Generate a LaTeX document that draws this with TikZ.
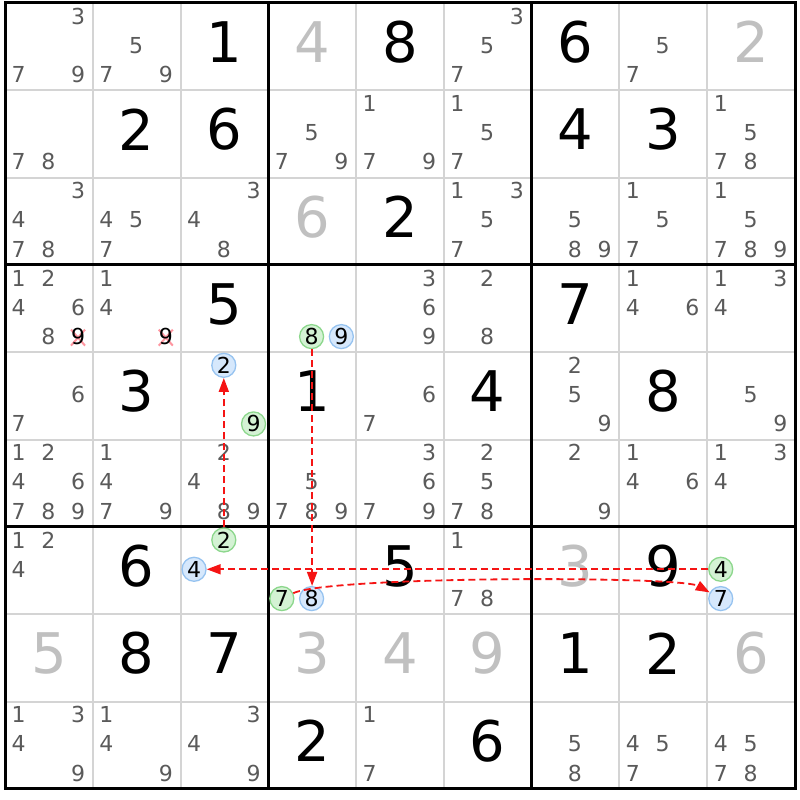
\documentclass[tikz,border=0pt]{standalone}
\usepackage{fontspec}
\setmainfont{DejaVu Sans}
\usetikzlibrary{arrows.meta,positioning}
\definecolor{candgray}{RGB}{90,90,90}
\definecolor{ghostgray}{RGB}{192,192,192}
\definecolor{gridline}{RGB}{212,212,212}
\definecolor{onfill}{RGB}{212,242,212}
\definecolor{ondraw}{RGB}{140,215,140}
\definecolor{offfill}{RGB}{214,232,252}
\definecolor{offdraw}{RGB}{150,195,240}
\definecolor{chainred}{RGB}{245,20,20}
\definecolor{strikered}{RGB}{255,150,160}

\begin{document}
\begin{tikzpicture}[x=87.78pt, y=-87.33pt]
% STYLES
\tikzset{%
    given/.style={font=\fontsize{56}{60}\selectfont, inner sep=0pt, yshift=4.5pt},
    placed/.style={given, text=ghostgray},
    cand/.style={font=\fontsize{22}{24}\selectfont, inner sep=0pt, text=candgray},
    oncand/.style={cand, circle, text=black, minimum size=24pt,
        draw=ondraw, fill=onfill, line width=1.3pt},
    offcand/.style={oncand, draw=offdraw, fill=offfill},
    thinline/.style={draw=gridline, line width=2pt},
    boxline/.style={draw=black, line width=3pt, line cap=rect},
    struckmark/.style={draw=strikered, line width=2pt},
    chainarrow/.style={draw=chainred, line width=1.8pt,
        dash pattern=on 7pt off 4pt, -{Triangle[length=14pt,width=10pt]}}
}
\fill[white] (-0.057,-0.0344) rectangle (9.0567,9.1263);
% Draw grid
\foreach \i in {1,2,4,5,7,8} {
    \path[thinline] (\i,0) -- (\i,9);
    \path[thinline] (0,\i) -- (9,\i);
}
\foreach \i in {0,3,6,9} {
    \path[boxline] (\i,0) -- (\i,9);
    \path[boxline] (0,\i) -- (9,\i);
}
% Draw givens
\foreach \rw/\cl/\dg in {1/3/1, 1/5/8, 1/7/6, 2/2/2, 2/3/6, 2/7/4, 2/8/3, 3/5/2,
    4/3/5, 4/7/7, 5/2/3, 5/4/1, 5/6/4, 5/8/8, 7/2/6, 7/5/5, 7/8/9,
    8/2/8, 8/3/7, 8/7/1, 8/8/2, 9/4/2, 9/6/6}
    \node[given] (g-\rw-\cl) at (\cl-0.5,\rw-0.5) {\dg};
\foreach \rw/\cl/\dg in {1/4/4, 1/9/2, 3/4/6, 7/7/3, 8/1/5, 8/4/3, 8/5/4, 8/6/9, 8/9/6}
    \node[placed] (g-\rw-\cl) at (\cl-0.5,\rw-0.5) {\dg};
% Draw candidates
\foreach \rw/\cl/\lst in {1/1/{3,7,9}, 1/2/{5,7,9}, 1/6/{3,5,7}, 1/8/{5,7},
    2/1/{7,8}, 2/4/{5,7,9}, 2/5/{1,7,9}, 2/6/{1,5,7}, 2/9/{1,5,7,8},
    3/1/{3,4,7,8}, 3/2/{4,5,7}, 3/3/{3,4,8}, 3/6/{1,3,5,7}, 3/7/{5,8,9},
    3/8/{1,5,7}, 3/9/{1,5,7,8,9},
    4/1/{1,2,4,6,8}, 4/2/{1,4}, 4/5/{3,6,9}, 4/6/{2,8}, 4/8/{1,4,6}, 4/9/{1,3,4},
    5/1/{6,7}, 5/5/{6,7}, 5/7/{2,5,9}, 5/9/{5,9},
    6/1/{1,2,4,6,7,8,9}, 6/2/{1,4,7,9}, 6/3/{2,4,8,9}, 6/4/{5,7,8,9},
    6/5/{3,6,7,9}, 6/6/{2,5,7,8}, 6/7/{2,9}, 6/8/{1,4,6}, 6/9/{1,3,4},
    7/1/{1,2,4}, 7/6/{1,7,8},
    9/1/{1,3,4,9}, 9/2/{1,4,9}, 9/3/{3,4,9}, 9/5/{1,7}, 9/7/{5,8},
    9/8/{4,5,7}, 9/9/{4,5,7,8}} {
    \foreach \dg in \lst {
        \pgfmathsetmacro\xx{\cl-1+(13.5+29.75*mod(\dg-1,3))/87.78}
        \pgfmathsetmacro\yy{\rw-1+(13+29.3*int((\dg-1)/3))/87.33}
        \node[cand] (k-\rw-\cl-\dg) at (\xx,\yy) {\dg};
    }
}
% Struck candidates
\foreach \cl in {1,2} {
    \pgfmathsetmacro\xx{\cl-1+(13.5+29.75*2)/87.78}
    \pgfmathsetmacro\yy{3+(13+29.3*2)/87.33}
    \path[struckmark] ([shift={(-7pt,-9pt)}]\xx,\yy) -- ([shift={(7pt,7pt)}]\xx,\yy)
        ([shift={(-7pt,7pt)}]\xx,\yy) -- ([shift={(7pt,-9pt)}]\xx,\yy);
    \node[cand, text=black] (x-4-\cl) at (\xx,\yy) {9};
}
% Chain candidates
\foreach \rw/\cl/\dg/\kind in {4/4/8/on, 4/4/9/off, 5/3/2/off, 5/3/9/on,
    7/3/2/on, 7/3/4/off, 7/4/7/on, 7/4/8/off, 7/9/4/on, 7/9/7/off} {
    \pgfmathsetmacro\xx{\cl-1+(13.5+29.75*mod(\dg-1,3))/87.78}
    \pgfmathsetmacro\yy{\rw-1+(13+29.3*int((\dg-1)/3))/87.33}
    \node[\kind cand] (\kind-\rw-\cl) at (\xx,\yy) {\dg};
}
% Draw the links
\draw[chainarrow] (on-7-3) -- (off-5-3);
\draw[chainarrow] ([xshift=0.5pt]on-4-4.south) -- ([xshift=0.5pt]off-7-4.north);
\draw[chainarrow] (on-7-9) -- (off-7-3);
\draw[chainarrow] (on-7-4) .. controls (3.70,6.56) and (7.69,6.56) .. (off-7-9);
\end{tikzpicture}
\end{document}
